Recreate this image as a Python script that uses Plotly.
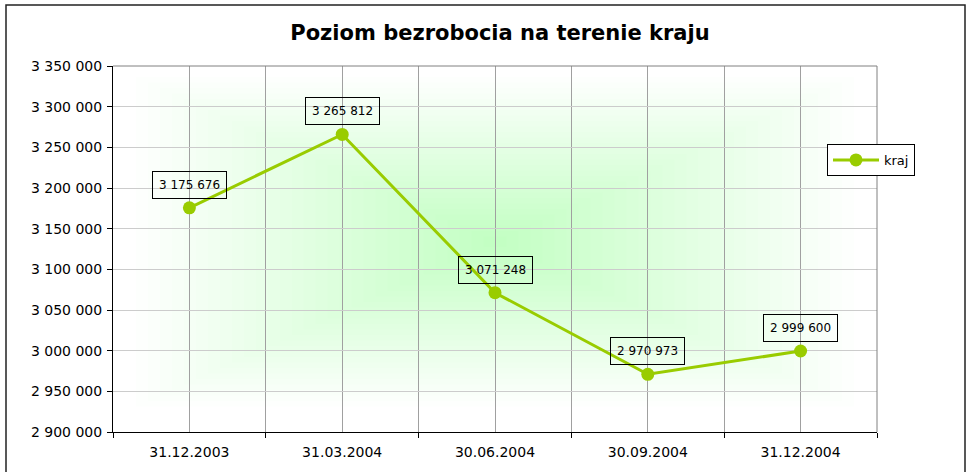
import plotly.graph_objects as go

# ---- data ----
categories = ["31.12.2003", "31.03.2004", "30.06.2004", "30.09.2004", "31.12.2004"]
values = [3175676, 3265812, 3071248, 2970973, 2999600]
series_name = "kraj"
title_text = "Poziom bezrobocia na terenie kraju"
y_min, y_max, y_step = 2900000, 3350000, 50000

FONT = "DejaVu Sans"
GREEN = "#99cc00"

x_pos = list(range(len(categories)))
bounds = [i - 0.5 for i in range(len(categories) + 1)]

fig = go.Figure()
fig.add_trace(go.Scatter(
    x=x_pos, y=values, mode="lines+markers", name=series_name,
    line=dict(color=GREEN, width=3),
    marker=dict(color=GREEN, size=13),
    hoverinfo="skip",
))

# data labels
for xi, v in zip(x_pos, values):
    fig.add_annotation(
        x=xi, y=v, xref="x", yref="y",
        text=f"{v:,}".replace(",", " "),
        showarrow=False, yanchor="bottom", xanchor="center", yshift=9,
        font=dict(family=FONT, size=12, color="black"),
        bordercolor="black", borderwidth=1, borderpad=6,
        bgcolor="rgba(0,0,0,0)",
    )

shapes = []
# rectangular "from centre" green gradient in plot area
N = 30
a = 1 - (1 - 0.19) ** (1 / N)
cx, cy = 0.5, 0.52
hx, hy = 0.47, 0.45
for i in range(N, 0, -1):
    f = i / N
    shapes.append(dict(
        type="rect", xref="x domain", yref="y domain", layer="below",
        x0=cx - hx * f, x1=cx + hx * f, y0=cy - hy * f, y1=cy + hy * f,
        line=dict(width=0), fillcolor=f"rgba(40,240,40,{a:.5f})",
    ))
# top and right plot-area border (gray)
shapes.append(dict(type="line", xref="paper", yref="paper", x0=0, x1=1, y0=1, y1=1,
                   line=dict(color="#808080", width=1), layer="above"))
shapes.append(dict(type="line", xref="paper", yref="paper", x0=1, x1=1, y0=0, y1=1,
                   line=dict(color="#808080", width=1), layer="above"))
# outer chart frame
L, R, T, B = 113, 877, 66, 432
W_, H_ = R - L, B - T
def px(x): return (x - L) / W_
def py(y): return (B - y) / H_
shapes.append(dict(type="rect", xref="paper", yref="paper",
                   x0=px(6), x1=px(965), y0=py(5), y1=py(490),
                   line=dict(color="#222222", width=1.5), fillcolor="rgba(0,0,0,0)"))

fig.update_layout(
    width=971, height=472,
    margin=dict(l=L, r=971 - R, t=T, b=472 - B),
    paper_bgcolor="white", plot_bgcolor="white",
    separators=", ",
    font=dict(family=FONT, size=13, color="black"),
    title=dict(text=title_text, x=px(500), xref="paper", xanchor="center",
               y=1 - 33 / 472, yref="container", yanchor="middle",
               font=dict(family=FONT, size=21, color="black", weight="bold")),
    showlegend=True,
    legend=dict(x=px(827), y=py(144), xanchor="left", yanchor="top",
                bgcolor="white", bordercolor="black", borderwidth=1,
                itemwidth=46, tracegroupgap=0,
                font=dict(family=FONT, size=13, color="black")),
    shapes=shapes,
    xaxis=dict(
        range=[bounds[0], bounds[-1]], tickmode="array", tickvals=x_pos, ticktext=categories,
        ticks="", showgrid=True, gridcolor="#a0a0a0", gridwidth=1, zeroline=False,
        showline=True, linecolor="black", linewidth=1,
        ticklabelstandoff=7,
        tickfont=dict(family=FONT, size=14, color="black"),
        minor=dict(tickmode="array", tickvals=bounds, ticks="outside", ticklen=5,
                   tickcolor="black", showgrid=True, gridcolor="#a0a0a0", gridwidth=1),
        fixedrange=True,
    ),
    yaxis=dict(
        range=[y_min, y_max], dtick=y_step, tick0=y_min, tickformat=",d",
        ticks="outside", ticklen=5, tickcolor="black",
        showgrid=True, gridcolor="#cccccc", gridwidth=1, zeroline=False,
        showline=True, linecolor="black", linewidth=1,
        ticklabelstandoff=2,
        tickfont=dict(family=FONT, size=14, color="black"),
        fixedrange=True,
    ),
)

fig.write_html("out.html", config={"displayModeBar": False},
               post_script="document.body.style.margin='0';")
